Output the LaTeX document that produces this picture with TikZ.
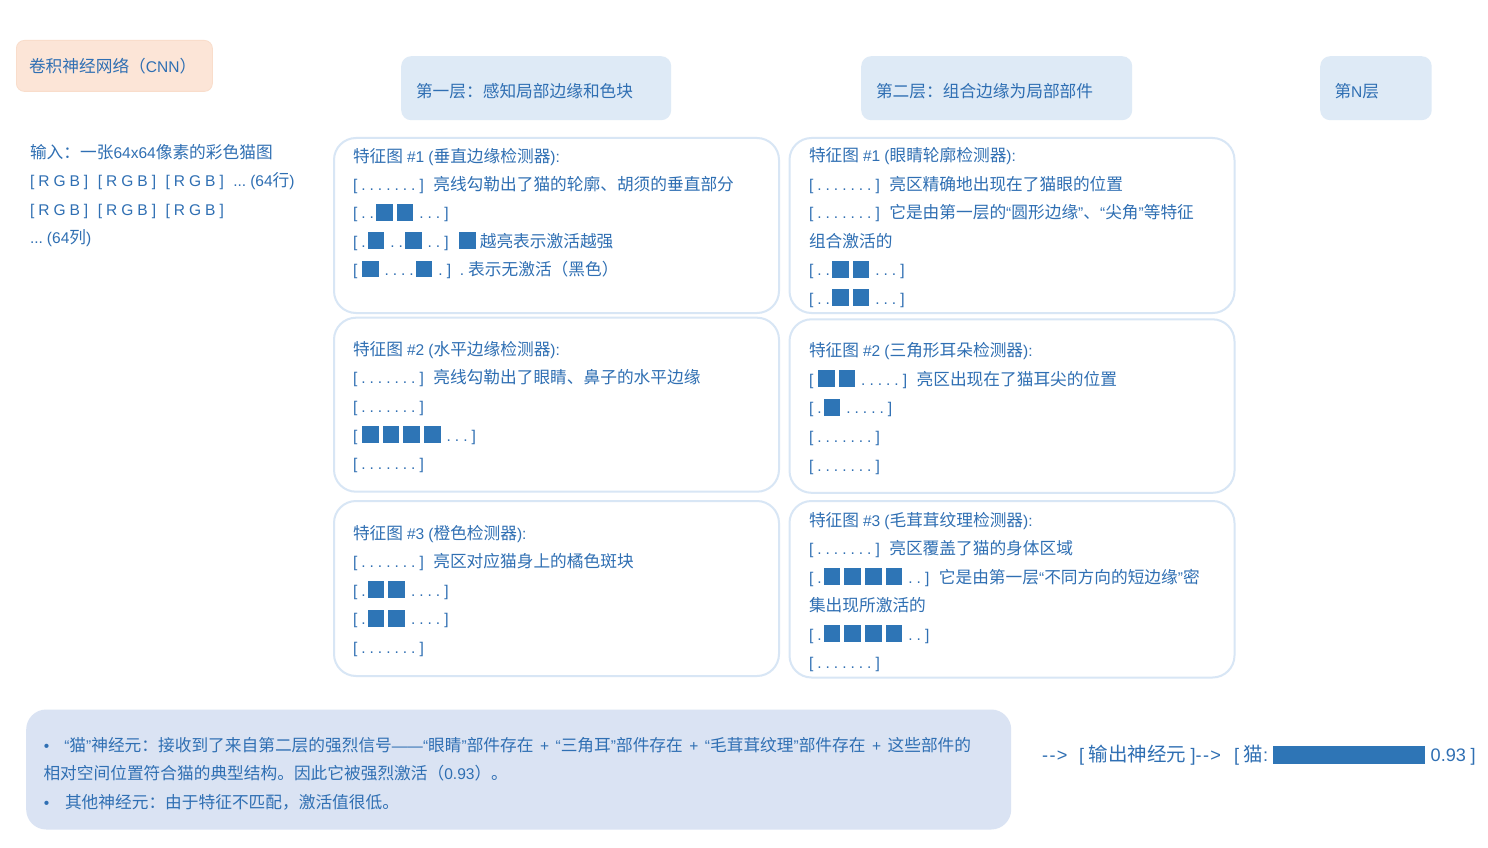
\documentclass[tikz,border=0pt]{standalone}
\usepackage{fontspec}
\setmainfont[Scale=0.93]{Liberation Sans}
\newfontfamily\cjkf{Noto Sans CJK SC}
\newfontfamily\latf[Scale=0.93]{Liberation Sans}
\XeTeXinterchartokenstate=1
\chardef\CJKcls=9
\newcount\cjkcnt
\def\setcjkrange#1#2{\cjkcnt=#1\relax
  \loop\XeTeXcharclass\cjkcnt=\CJKcls\relax
  \ifnum\cjkcnt<#2\relax\advance\cjkcnt by 1\relax\repeat}
\setcjkrange{"3000}{"303F}
\setcjkrange{"4E00}{"9FFF}
\setcjkrange{"FF00}{"FFEF}
\XeTeXcharclass"201C=0 \XeTeXcharclass"201D=0
\XeTeXcharclass"2018=0 \XeTeXcharclass"2019=0
\XeTeXcharclass"2014=0 \XeTeXcharclass"2026=0 \XeTeXcharclass"2022=0
\XeTeXinterchartoks 0 \CJKcls = {\cjkf}
\XeTeXinterchartoks 4095 \CJKcls = {\cjkf}
\XeTeXinterchartoks \CJKcls 0 = {\latf}
\XeTeXinterchartoks \CJKcls 4095 = {\latf}

\definecolor{tc}{HTML}{2F6FB3}
\definecolor{sqc}{HTML}{2E75B6}
\definecolor{bordc}{HTML}{D8E6F5}
\definecolor{hdrc}{HTML}{DEEAF6}
\definecolor{peach}{HTML}{FCE5D7}
\definecolor{peachb}{HTML}{F9DDCB}
\definecolor{botc}{HTML}{DAE3F3}

\newcommand\fsz{\fontsize{16.7pt}{20pt}\selectfont\frenchspacing\spaceskip=4pt\relax}
\newcommand\fszw{\fontsize{16.7pt}{20pt}\selectfont\frenchspacing\spaceskip=6.5pt\relax}
\newcommand\fbig{\fontsize{19.5pt}{23pt}\selectfont\frenchspacing\spaceskip=4.5pt\relax}
\newcommand\sqb{\hspace{2pt}\textcolor{sqc}{\rule[-1.7pt]{16.7pt}{16.7pt}}\hspace{2pt}}
\newcommand\gp{\hspace{9.5pt}}
\newcommand\dotrow{[ . . . . . . . ]}
\newcommand\rgbb{[ R G B ]}

\tikzset{
  txt/.style={anchor=base west, inner sep=0pt, outer sep=0pt, text=tc, font=\fsz},
  fmap/.style={draw=bordc, line width=2pt, fill=white, rounded corners=22pt,
    anchor=north west, inner sep=0pt, minimum width=445pt},
  hdr/.style={fill=hdrc, rounded corners=10pt, anchor=north west, inner sep=0pt,
    minimum height=64pt},
}

\begin{document}
\begin{tikzpicture}[x=1pt,y=-1pt]
\useasboundingbox (0,0) rectangle (1488,848);
\fill[white] (0,0) rectangle (1488,848);

% headers
\node[fill=peach, draw=peachb, line width=0.8pt, rounded corners=8pt, anchor=north west,
  inner sep=0pt, minimum width=196pt, minimum height=51pt] (cnnbox) at (16,40) {};
\node[txt] (cnntxt) at (29,72.5) {卷积神经网络（CNN）};
\node[hdr, minimum width=270pt] (h1) at (401,56) {};
\node[txt] (h1t) at (416,98) {第一层：感知局部边缘和色块};
\node[hdr, minimum width=271pt] (h2) at (861,56) {};
\node[txt] (h2t) at (876,98) {第二层：组合边缘为局部部件};
\node[hdr, minimum width=111.5pt] (h3) at (1320,56) {};
\node[txt] (h3t) at (1334.5,98) {第N层};

% input
\node[txt] (in1) at (30,158) {输入：一张64x64像素的彩色猫图};
\node[txt] (in2) at (30,186.5) {\rgbb\gp\rgbb\gp\rgbb\gp... (64行)};
\node[txt] (in3) at (30,215) {\rgbb\gp\rgbb\gp\rgbb};
\node[txt] (in4) at (30,243.5) {... (64列)};

% feature map boxes
\node[fmap, minimum height=175pt] (b11) at (333,137) {};
\node[fmap, minimum height=175pt] (b21) at (788.5,137) {};
\node[fmap, minimum height=174pt] (b12) at (333,316.7) {};
\node[fmap, minimum height=173.5pt] (b22) at (788.5,318.3) {};
\node[fmap, minimum height=175pt] (b13) at (333,500) {};
\node[fmap, minimum height=176.5pt] (b23) at (788.5,500) {};

% layer 1, map 1
\node[txt] (l1a) at (353,162.3) {特征图 \#1 (垂直边缘检测器):};
\node[txt] (l1b) at (353,190.6) {\dotrow\gp 亮线勾勒出了猫的轮廓、胡须的垂直部分};
\node[txt] (l1c) at (353,218.9) {[ . .\sqb\sqb{} . . . ]};
\node[txt] (l1d) at (353,247.2) {[ .\sqb{} . .\sqb{} . . ]\hspace{8.5pt}\sqb\hspace{2pt}越亮表示激活越强};
\node[txt] (l1e) at (353,275.5) {[\hspace{2.5pt}\sqb{} . . . .\sqb{} . ]\hspace{8.8pt}. 表示无激活（黑色）};

% layer 1, map 2
\node[txt] (l2a) at (353,355) {特征图 \#2 (水平边缘检测器):};
\node[txt] (l2b) at (353,383.7) {\dotrow\gp 亮线勾勒出了眼睛、鼻子的水平边缘};
\node[txt] (l2c) at (353,412.4) {\dotrow};
\node[txt] (l2d) at (353,441.1) {[\hspace{2.5pt}\sqb\sqb\sqb\sqb{} . . . ]};
\node[txt] (l2e) at (353,469.8) {\dotrow};

% layer 1, map 3
\node[txt] (l3a) at (353,539) {特征图 \#3 (橙色检测器):};
\node[txt] (l3b) at (353,567.6) {\dotrow\gp 亮区对应猫身上的橘色斑块};
\node[txt] (l3c) at (353,596.2) {[ .\sqb\sqb{} . . . . ]};
\node[txt] (l3d) at (353,624.8) {[ .\sqb\sqb{} . . . . ]};
\node[txt] (l3e) at (353,653.4) {\dotrow};

% layer 2, map 1
\node[txt] (r1a) at (809,161.8) {特征图 \#1 (眼睛轮廓检测器):};
\node[txt] (r1b) at (809,190.3) {\dotrow\gp 亮区精确地出现在了猫眼的位置};
\node[txt] (r1c) at (809,218.8) {\dotrow\gp 它是由第一层的“圆形边缘”、“尖角”等特征};
\node[txt] (r1d) at (809,247.3) {组合激活的};
\node[txt] (r1e) at (809,275.8) {[ . .\sqb\sqb{} . . . ]};
\node[txt] (r1f) at (809,304.3) {[ . .\sqb\sqb{} . . . ]};

% layer 2, map 2
\node[txt] (r2a) at (809,356.5) {特征图 \#2 (三角形耳朵检测器):};
\node[txt] (r2b) at (809,385.2) {[\hspace{2.5pt}\sqb\sqb{} . . . . . ]\gp 亮区出现在了猫耳尖的位置};
\node[txt] (r2c) at (809,413.9) {[ .\sqb{} . . . . . ]};
\node[txt] (r2d) at (809,442.6) {\dotrow};
\node[txt] (r2e) at (809,471.3) {\dotrow};

% layer 2, map 3
\node[txt] (r3a) at (809,526) {特征图 \#3 (毛茸茸纹理检测器):};
\node[txt] (r3b) at (809,554.5) {\dotrow\gp 亮区覆盖了猫的身体区域};
\node[txt] (r3c) at (809,583) {[ .\sqb\sqb\sqb\sqb{} . . ]\gp 它是由第一层“不同方向的短边缘”密};
\node[txt] (r3d) at (809,611.5) {集出现所激活的};
\node[txt] (r3e) at (809,640) {[ .\sqb\sqb\sqb\sqb{} . . ]};
\node[txt] (r3f) at (809,668.5) {\dotrow};

% bottom summary
\node[fill=botc, rounded corners=20pt, anchor=north west, inner sep=0pt,
  minimum width=985pt, minimum height=120pt] (sumbox) at (26,709.3) {};
\node[txt, font=\fszw] (s1) at (43.8,751) {\makebox[20.5pt][l]{•}“猫”神经元：接收到了来自第二层的强烈信号——“眼睛”部件存在 + “三角耳”部件存在 + “毛茸茸纹理”部件存在 + 这些部件的};
\node[txt] (s2) at (43.5,779.5) {相对空间位置符合猫的典型结构。因此它被强烈激活（0.93）。};
\node[txt] (s3) at (43.8,808) {\makebox[21.2pt][l]{•}其他神经元：由于特征不匹配，激活值很低。};

% output
\node[txt, font=\fbig] (out) at (1042,761) {\makebox[37pt][l]{-\kern1.5pt-\kern1.2pt>}\makebox[155pt][l]{[ 输出神经元 ]-\kern1.5pt-\kern1.2pt>}\makebox[38.7pt][l]{[ 猫:}\textcolor{sqc}{\rule[-3.3pt]{152.3pt}{18.6pt}}\hspace{5.7pt}0.93 ]};
\end{tikzpicture}
\end{document}
